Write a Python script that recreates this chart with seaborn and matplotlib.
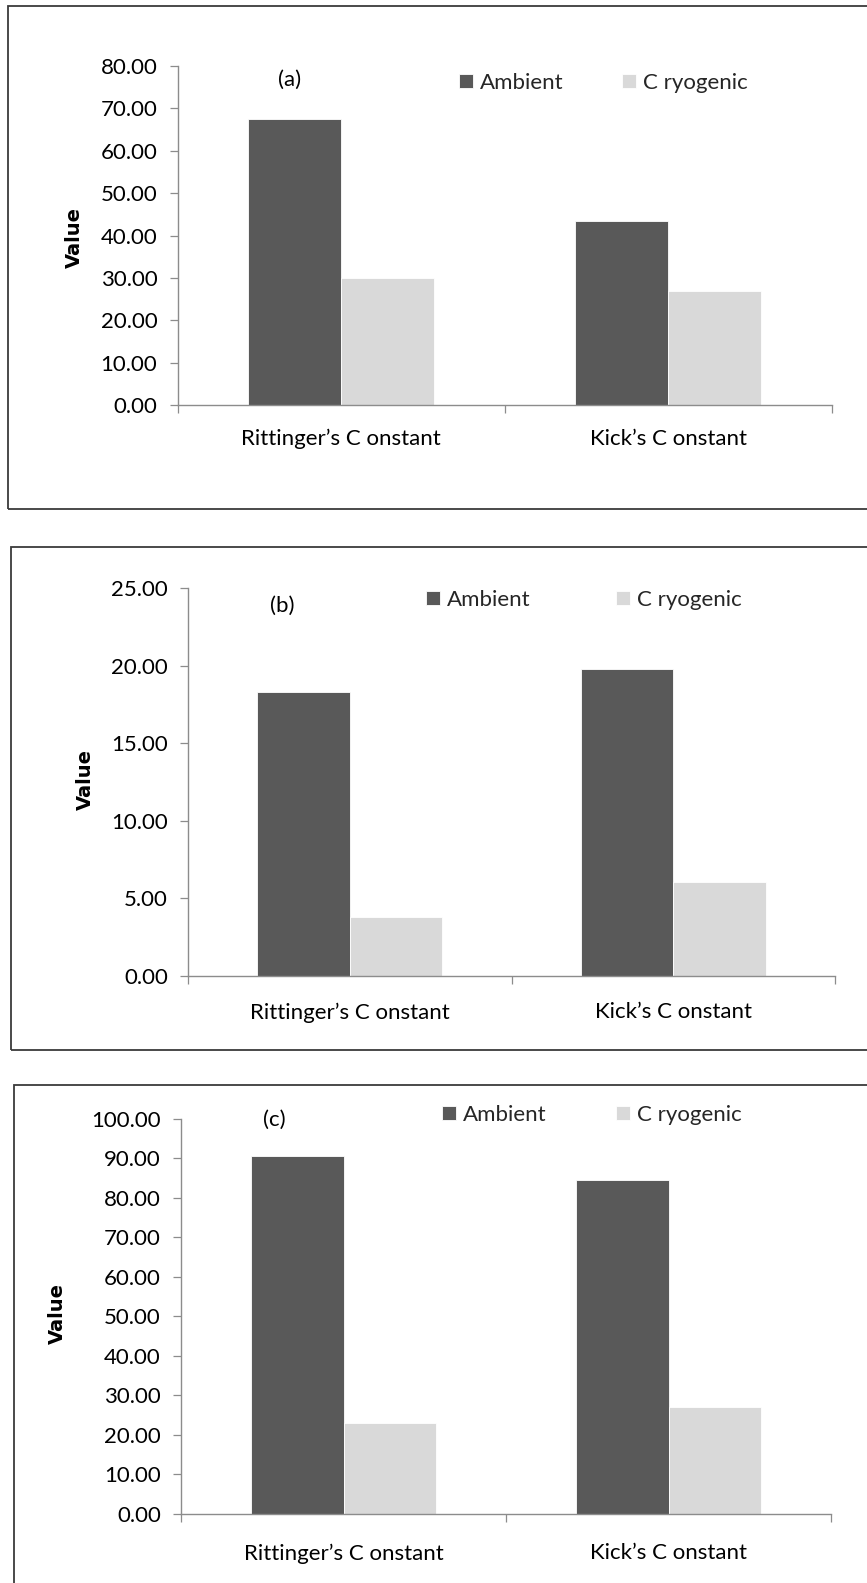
import matplotlib
matplotlib.use("Agg")
import matplotlib.pyplot as plt
from matplotlib.patches import Rectangle
from matplotlib.ticker import FormatStrFormatter, FixedLocator, MultipleLocator
import numpy as np
import pandas as pd
import seaborn as sns

# ---- data ----
categories = ["Rittinger\u2019s C onstant", "Kick\u2019s C onstant"]
series = ["Ambient", "C ryogenic"]

ambient_a = [67.4, 43.3]
cryogenic_a = [30.1, 26.9]

ambient_b = [18.28, 19.76]
cryogenic_b = [3.78, 6.04]

ambient_c = [90.6, 84.4]
cryogenic_c = [23.1, 27.1]

panel_tags = ["(a)", "(b)", "(c)"]
y_max = [80, 25, 100]
y_step = [10, 5, 10]

# ---- style ----
sns.set_theme(style="white")
plt.rcParams["font.family"] = ["Lato", "DejaVu Sans"]

DARK = "#595959"
LIGHT = "#D9D9D9"
AXIS = "#8C8C8C"
FONT_PT = 16

W, H = 867, 1583
fig = plt.figure(figsize=(W / 100, H / 100), dpi=100)


def fx(px):
    return px / W


def fy(py):
    return 1 - py / H


# pixel layout of each panel: axes box, frame, label spots
layout = [
    dict(ax=(177.5, 65.7, 831.5, 405.3), frame=(8, 6, 900, 509),
         ylab_x=84, ylab_y=237, tag=(290, 80), leg=(459, 83, 58), xpad=17),
    dict(ax=(188, 588, 835, 976), frame=(11, 547, 900, 1050),
         ylab_x=95, ylab_y=780, tag=(282, 606), leg=(426, 600, 85), xpad=19),
    dict(ax=(181, 1118.7, 831, 1514), frame=(14, 1085, 900, 1620),
         ylab_x=67, ylab_y=1313, tag=(274, 1120), leg=(442, 1115, 69), xpad=21),
]

values = [(ambient_a, cryogenic_a), (ambient_b, cryogenic_b), (ambient_c, cryogenic_c)]

for i, (lay, (amb, cryo)) in enumerate(zip(layout, values)):
    # outer frame around each chart
    x0, y0, x1, y1 = lay["frame"]
    fig.patches.append(Rectangle((fx(x0), fy(y1)), fx(x1) - fx(x0), fy(y0) - fy(y1),
                                 transform=fig.transFigure, fill=False,
                                 edgecolor="#3A3A3A", linewidth=1.3, zorder=0))

    l, t, r, b = lay["ax"]
    ax = fig.add_axes([fx(l), fy(b), fx(r) - fx(l), fy(t) - fy(b)])
    ax.set_facecolor("none")

    df = pd.DataFrame({
        "constant": categories * 2,
        "condition": [series[0]] * 2 + [series[1]] * 2,
        "value": list(amb) + list(cryo),
    })
    sns.barplot(data=df, x="constant", y="value", hue="condition",
                order=categories, hue_order=series,
                palette=[DARK, LIGHT], saturation=1, width=0.571,
                errorbar=None, edgecolor="white", linewidth=0.6, ax=ax)

    ax.set_xlim(-0.5, 1.5)
    ax.set_ylim(0, y_max[i])
    ax.yaxis.set_major_locator(MultipleLocator(y_step[i]))
    ax.yaxis.set_major_formatter(FormatStrFormatter("%.2f"))

    for side in ("top", "right"):
        ax.spines[side].set_visible(False)
    for side in ("left", "bottom"):
        ax.spines[side].set_color(AXIS)
        ax.spines[side].set_linewidth(1.0)

    ax.tick_params(axis="y", which="major", direction="out", length=5.5, width=0.9,
                   color=AXIS, labelsize=FONT_PT, labelcolor="black", pad=9, left=True)
    ax.tick_params(axis="x", which="major", length=0, labelsize=FONT_PT,
                   labelcolor="black", pad=lay["xpad"], bottom=True)
    ax.xaxis.set_minor_locator(FixedLocator([-0.5, 0.5, 1.5]))
    ax.tick_params(axis="x", which="minor", direction="out", length=6, width=0.9,
                   color=AXIS, bottom=True)

    ax.set_xlabel("")
    ax.set_ylabel("Value", fontsize=14, fontweight="bold",
                  family=["DejaVu Sans"], color="black")
    ax.yaxis.set_label_coords((lay["ylab_x"] - l) / (r - l),
                              (b - lay["ylab_y"]) / (b - t))

    tx, ty = lay["tag"]
    ax.text((tx - l) / (r - l), (b - ty) / (b - t), panel_tags[i],
            transform=ax.transAxes, ha="center", va="center",
            fontsize=FONT_PT, color="black")

    handles, labels = ax.get_legend_handles_labels()
    lx, ly, gap = lay["leg"]
    fs_px = FONT_PT * 100 / 72
    ax.legend(handles, labels, ncol=2, frameon=False, fontsize=FONT_PT,
              loc="center left", bbox_to_anchor=(fx(lx), fy(ly)),
              bbox_transform=fig.transFigure, borderpad=0, borderaxespad=0,
              handlelength=14 / fs_px, handleheight=14 / fs_px,
              handletextpad=7 / fs_px, columnspacing=gap / fs_px)

fig.savefig("out.png", dpi=100, facecolor="white")
